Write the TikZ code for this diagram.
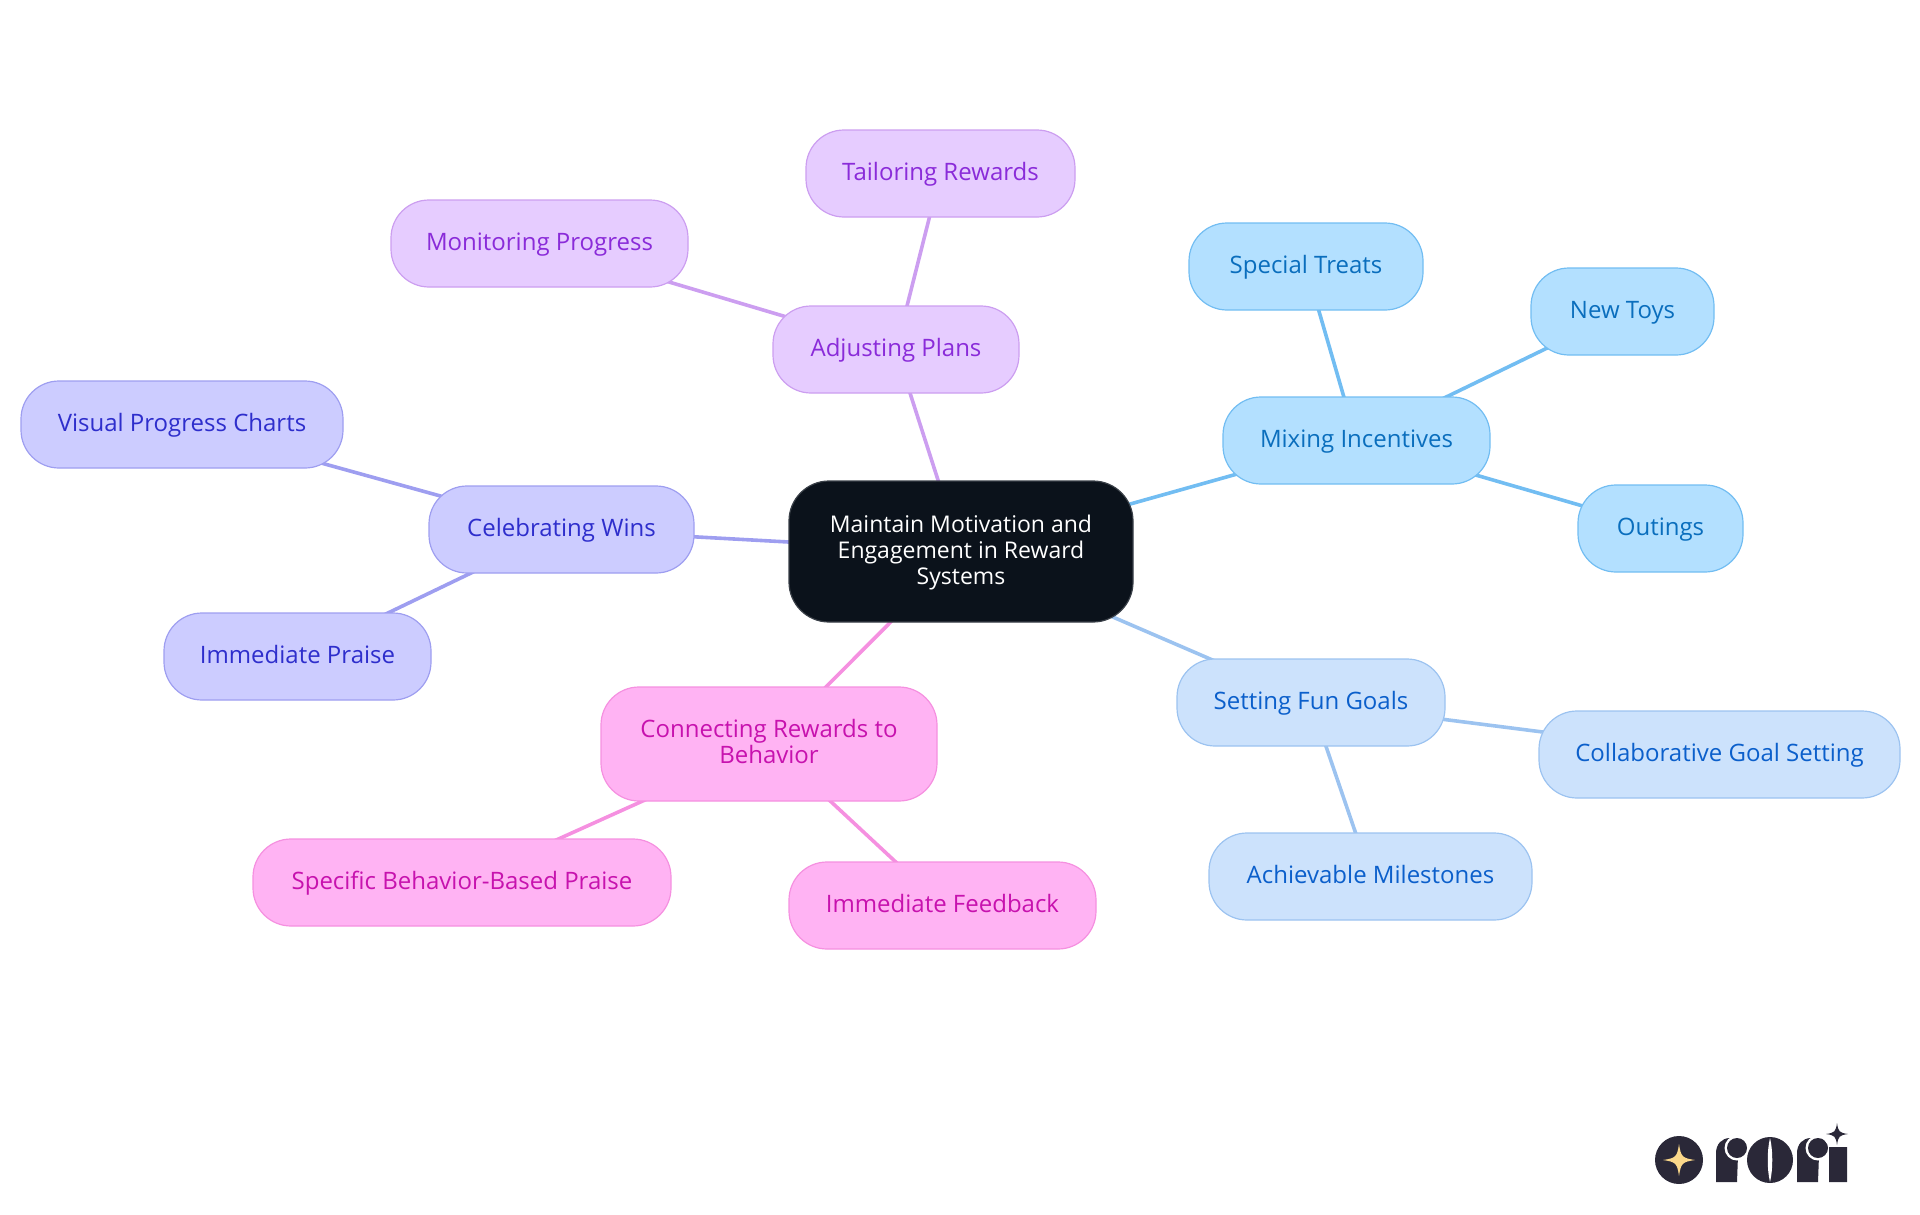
\documentclass[tikz,border=0pt]{standalone}
\usepackage{fontspec}
\setmainfont{Open Sans}
\usetikzlibrary{backgrounds}
\definecolor{cA}{HTML}{B3E0FF}\definecolor{sA}{HTML}{72BDF2}\definecolor{tA}{HTML}{0A6EBD}
\definecolor{cB}{HTML}{CCE2FC}\definecolor{sB}{HTML}{9CC3F0}\definecolor{tB}{HTML}{0B5FCB}
\definecolor{cC}{HTML}{FFB3F3}\definecolor{sC}{HTML}{F590E0}\definecolor{tC}{HTML}{C712AE}
\definecolor{cD}{HTML}{CCCCFF}\definecolor{sD}{HTML}{9E9EF0}\definecolor{tD}{HTML}{2E2ECC}
\definecolor{cE}{HTML}{E6CCFF}\definecolor{sE}{HTML}{CC9EF0}\definecolor{tE}{HTML}{8A2BD9}
\definecolor{rootfill}{HTML}{0B121B}\definecolor{rootline}{HTML}{3A4048}
\definecolor{logodark}{HTML}{2A2838}\definecolor{logogold}{HTML}{FBD88A}
\tikzset{
 x=1pt,y=-1pt,
 mm/.style={rounded corners=38pt,line width=1.2pt,inner sep=0pt,minimum height=87pt,align=center,font=\fontsize{24}{26}\selectfont,text height=20pt,text depth=6.1pt},
 rootbox/.style={mm,rounded corners=40pt,minimum width=344pt,minimum height=141pt,fill=rootfill,draw=rootline,text=white,font=\fontsize{23}{26}\selectfont,text height=73pt,text depth=6.4pt},
 twolines/.style={minimum height=114pt,text height=46pt,text depth=6.6pt},
 famA/.style={mm,fill=cA,draw=sA,text=tA},
 famB/.style={mm,fill=cB,draw=sB,text=tB},
 famC/.style={mm,fill=cC,draw=sC,text=tC},
 famD/.style={mm,fill=cD,draw=sD,text=tD},
 famE/.style={mm,fill=cE,draw=sE,text=tE},
 link/.style={line width=3.6pt},
}
\newcommand{\fourstar}[4]{\fill[#4] (#1-#3,#2) .. controls (#1-0.2*#3,#2-0.12*#3) and (#1-0.12*#3,#2-0.2*#3) .. (#1,#2-#3) .. controls (#1+0.12*#3,#2-0.2*#3) and (#1+0.2*#3,#2-0.12*#3) .. (#1+#3,#2) .. controls (#1+0.2*#3,#2+0.12*#3) and (#1+0.12*#3,#2+0.2*#3) .. (#1,#2+#3) .. controls (#1-0.12*#3,#2+0.2*#3) and (#1-0.2*#3,#2+0.12*#3) .. (#1-#3,#2) -- cycle;}
\newcommand{\logor}[1]{%
 \fill[logodark] (#1,1182) -- (#1,1153) .. controls (#1,1144) and (#1+6,1138) .. (#1+14,1138) -- (#1+22,1155) -- (#1+21,1182) -- cycle;
 \fill[white] (#1+21,1148) circle[radius=12.5];
 \fill[logodark] (#1+21,1148) circle[radius=10];
}
\begin{document}
\begin{tikzpicture}
\useasboundingbox (0,0) rectangle (1920,1215);
\node[rootbox] (root) at (961,551.5) {Maintain Motivation and\\Engagement in Reward\\Systems};
\node[famA,minimum width=267pt] (mix) at (1356.5,440.5) {Mixing Incentives};
\node[famA,minimum width=234pt] (treats) at (1306,266.5) {Special Treats};
\node[famA,minimum width=183pt] (toys) at (1622.5,311.5) {New Toys};
\node[famA,minimum width=165pt] (outings) at (1660.5,528.5) {Outings};
\node[famB,minimum width=268pt] (goals) at (1311,702.5) {Setting Fun Goals};
\node[famB,minimum width=361pt] (collab) at (1719.5,754.5) {Collaborative Goal Setting};
\node[famB,minimum width=323pt] (miles) at (1370.5,876.5) {Achievable Milestones};
\node[famC,twolines,minimum width=336pt] (conn) at (769,744) {Connecting Rewards to\\Behavior};
\node[famC,minimum width=418pt] (spec) at (462,882.5) {Specific Behavior-Based Praise};
\node[famC,minimum width=307pt] (feedback) at (942.5,905.5) {Immediate Feedback};
\node[famD,minimum width=265pt] (wins) at (561.5,529.5) {Celebrating Wins};
\node[famD,minimum width=322pt] (visual) at (182,424.5) {Visual Progress Charts};
\node[famD,minimum width=267pt] (praise) at (297.5,656.5) {Immediate Praise};
\node[famE,minimum width=246pt] (adjust) at (896,349.5) {Adjusting Plans};
\node[famE,minimum width=269pt] (tailor) at (940.5,173.5) {Tailoring Rewards};
\node[famE,minimum width=297pt] (monitor) at (539.5,243.5) {Monitoring Progress};
\begin{scope}[on background layer]
\draw[link,sA] (root.center) -- (mix.center);
\draw[link,sA] (mix.center) -- (treats.center);
\draw[link,sA] (mix.center) -- (toys.center);
\draw[link,sA] (mix.center) -- (outings.center);
\draw[link,sB] (root.center) -- (goals.center);
\draw[link,sB] (goals.center) -- (collab.center);
\draw[link,sB] (goals.center) -- (miles.center);
\draw[link,sC] (root.center) -- (conn.center);
\draw[link,sC] (conn.center) -- (spec.center);
\draw[link,sC] (conn.center) -- (feedback.center);
\draw[link,sD] (root.center) -- (wins.center);
\draw[link,sD] (wins.center) -- (visual.center);
\draw[link,sD] (wins.center) -- (praise.center);
\draw[link,sE] (root.center) -- (adjust.center);
\draw[link,sE] (adjust.center) -- (tailor.center);
\draw[link,sE] (adjust.center) -- (monitor.center);
\end{scope}
% logo
\fill[logodark] (1679,1160) circle[radius=24];
\fourstar{1679}{1160}{16}{logogold}
\logor{1716}
\fill[logodark] (1770,1160) circle[radius=23];
\fill[white] (1770,1138) .. controls (1767,1150) and (1767,1170) .. (1770,1182) .. controls (1773,1170) and (1773,1150) .. (1770,1138) -- cycle;
\logor{1797}
\fill[logodark] (1829,1147) -- (1847,1147) -- (1847,1182) -- (1829,1182) -- cycle;
\fill[white] (1837,1134) circle[radius=14];
\fill[logodark] (1829,1152) -- (1832,1147) -- (1847,1147) -- (1847,1182) -- (1829,1182) -- cycle;
\fourstar{1837}{1134}{11}{logodark}
\end{tikzpicture}
\end{document}
